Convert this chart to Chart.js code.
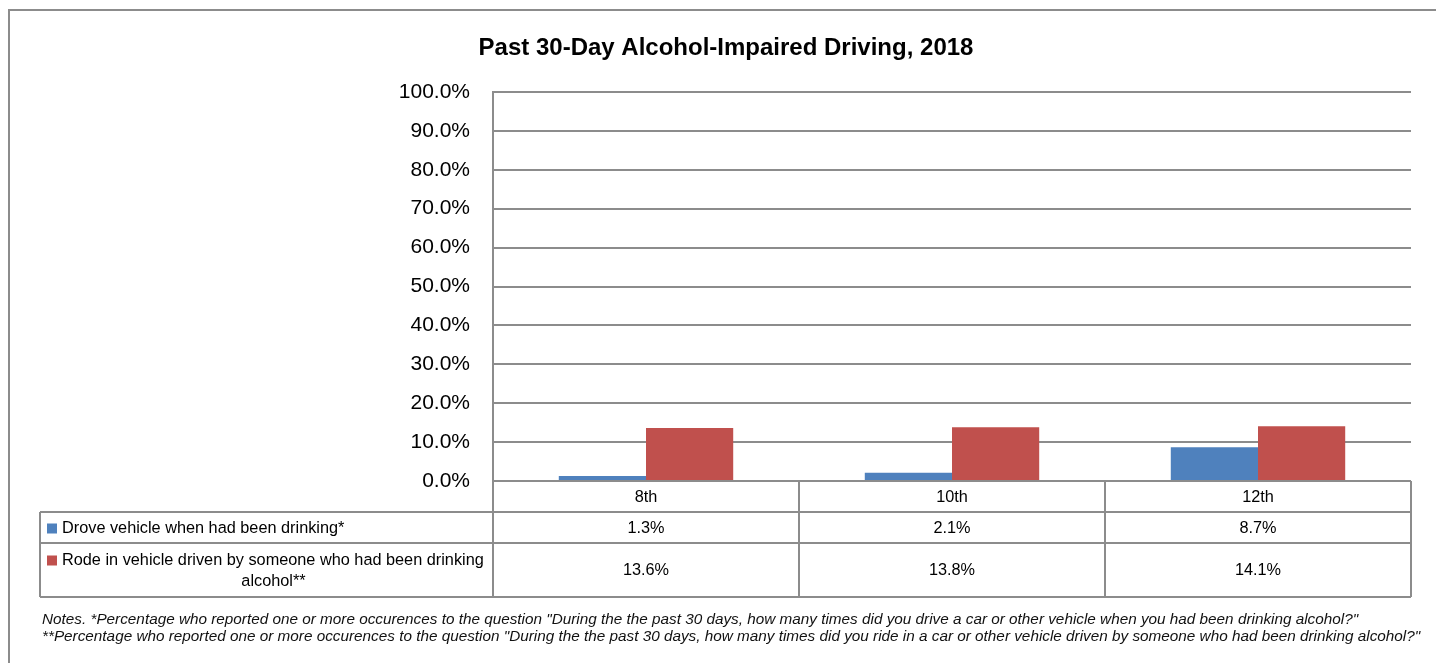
<!DOCTYPE html>
<html>
<head>
<meta charset="utf-8">
<script src="https://cdn.jsdelivr.net/npm/chart.js@4.4.1/dist/chart.umd.min.js"></script>
<style>
  html, body { margin: 0; padding: 0; background: #fff; overflow: hidden; }
  #wrap { position: relative; width: 1436px; height: 663px; }
  #frame { position: absolute; left: 8px; top: 9px; width: 1500px; height: 700px; border: 2px solid #8c8c8c; box-sizing: border-box; }
  canvas { position: absolute; left: 0; top: 0; }
</style>
</head>
<body>
<div id="wrap">
  <div id="frame"></div>
  <canvas id="c" width="1436" height="663"></canvas>
</div>
<script>
const chartTitle = 'Past 30-Day Alcohol-Impaired Driving, 2018';
const categories = ['8th', '10th', '12th'];
const seriesNames = ['Drove vehicle when had been drinking*', 'Rode in vehicle driven by someone who had been drinking alcohol**'];
const droveValues = [1.3, 2.1, 8.7];
const rodeValues = [13.6, 13.8, 14.1];
const seriesColors = ['#4F81BD', '#C0504D'];
const notes = [
  'Notes. *Percentage who reported one or more occurences to the question "During the the past 30 days, how many times did you drive a car or other vehicle when you had been drinking alcohol?"',
  '**Percentage who reported one or more occurences to the question "During the the past 30 days, how many times did you ride in a car or other vehicle driven by someone who had been drinking alcohol?"'
];

const FONT = '"Liberation Sans", Arial, sans-serif';
const LINE = '#8c8c8c';

function wrapText(ctx, text, maxW) {
  const words = text.split(' ');
  const lines = [];
  let cur = '';
  for (const w of words) {
    const t = cur ? cur + ' ' + w : w;
    if (ctx.measureText(t).width > maxW && cur) { lines.push(cur); cur = w; }
    else cur = t;
  }
  if (cur) lines.push(cur);
  return lines;
}

const tablePlugin = {
  id: 'dataTable',
  afterDraw(chart) {
    const ctx = chart.ctx;
    const xs = chart.scales.x;
    const area = chart.chartArea;
    const n = categories.length;
    const cw = (area.right - area.left) / n;
    const top = area.bottom;
    const rowH = [31, 31, 54];
    const r1 = top + rowH[0], r2 = r1 + rowH[1], r3 = r2 + rowH[2];
    const tableLeft = 40;

    ctx.save();
    // title
    ctx.fillStyle = '#000';
    ctx.font = 'bold 24px ' + FONT;
    ctx.textAlign = 'center';
    ctx.textBaseline = 'middle';
    ctx.fillText(chartTitle, 726, 48);

    // grid lines of table
    ctx.strokeStyle = LINE;
    ctx.lineWidth = 2;
    ctx.beginPath();
    ctx.moveTo(area.left, top); ctx.lineTo(area.right, top);
    ctx.moveTo(tableLeft, r1); ctx.lineTo(area.right, r1);
    ctx.moveTo(tableLeft, r2); ctx.lineTo(area.right, r2);
    ctx.moveTo(tableLeft, r3); ctx.lineTo(area.right, r3);
    ctx.moveTo(tableLeft, r1); ctx.lineTo(tableLeft, r3);
    for (let i = 0; i <= n; i++) {
      const x = area.left + i * cw;
      ctx.moveTo(x, i === 0 ? area.top : top); ctx.lineTo(x, r3);
    }
    ctx.stroke();

    // category labels and values
    ctx.fillStyle = '#000';
    ctx.font = '16.3px ' + FONT;
    ctx.textAlign = 'center';
    ctx.textBaseline = 'middle';
    const rows = [droveValues, rodeValues];
    categories.forEach((c, i) => {
      const cx = xs.getPixelForValue(i);
      ctx.fillText(c, cx, (top + r1) / 2 + 1);
      ctx.fillText(rows[0][i].toFixed(1) + '%', cx, (r1 + r2) / 2 + 1);
      ctx.fillText(rows[1][i].toFixed(1) + '%', cx, (r2 + r3) / 2 + 1);
    });

    // legend row labels
    const rowMids = [(r1 + r2) / 2, (r2 + r3) / 2];
    seriesNames.forEach((name, k) => {
      const textX = 62;
      const maxW = area.left - textX - 2;
      const lines = wrapText(ctx, name, maxW);
      const lh = 21;
      const y0 = rowMids[k] - (lines.length - 1) * lh / 2 + 1;
      lines.forEach((ln, j) => {
        const y = y0 + j * lh;
        if (j === 0) {
          ctx.fillStyle = seriesColors[k];
          ctx.fillRect(47, y - 5, 10, 10);
          ctx.fillStyle = '#000';
          ctx.textAlign = 'left';
          ctx.fillText(ln, textX, y);
        } else {
          ctx.textAlign = 'center';
          ctx.fillText(ln, (tableLeft + area.left) / 2 + 7, y);
        }
      });
    });

    // notes
    ctx.font = 'italic 15.3px ' + FONT;
    ctx.textAlign = 'left';
    ctx.fillStyle = '#111';
    notes.forEach((t, i) => ctx.fillText(t, 42, 620 + i * 17));
    ctx.restore();
  }
};

new Chart(document.getElementById('c'), {
  type: 'bar',
  data: {
    labels: categories,
    datasets: [
      { label: seriesNames[0], data: droveValues, backgroundColor: seriesColors[0], borderWidth: 0 },
      { label: seriesNames[1], data: rodeValues, backgroundColor: seriesColors[1], borderWidth: 0 }
    ]
  },
  options: {
    responsive: false,
    animation: false,
    layout: { padding: { top: 92, right: 25, bottom: 182, left: 0 } },
    datasets: { bar: { categoryPercentage: 0.57, barPercentage: 1.0 } },
    plugins: { legend: { display: false }, title: { display: false }, tooltip: { enabled: false } },
    scales: {
      x: { display: false, grid: { display: false } },
      y: {
        min: 0, max: 100,
        afterFit(scale) { scale.width = 493; },
        ticks: {
          stepSize: 10,
          padding: 23,
          color: '#000',
          font: { family: FONT, size: 21 },
          callback: v => Number(v).toFixed(1) + '%'
        },
        grid: { color: LINE, lineWidth: 2, drawTicks: false },
        border: { display: true, color: LINE, width: 2 }
      }
    }
  },
  plugins: [tablePlugin]
});
</script>
</body>
</html>
